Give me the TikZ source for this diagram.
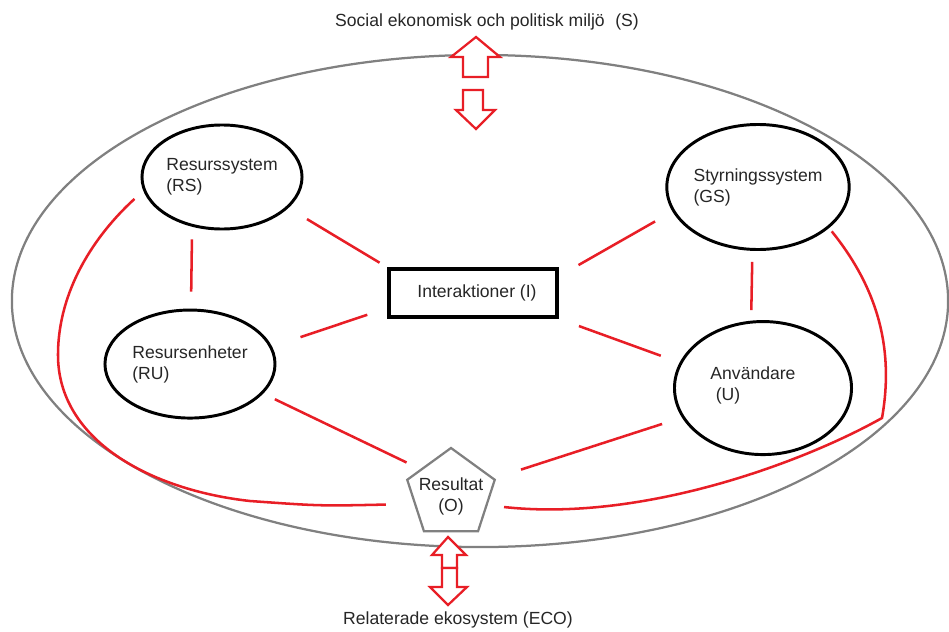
\documentclass[tikz,border=0pt]{standalone}
\usepackage{fontspec}
\setmainfont{Liberation Sans}
\usetikzlibrary{shapes.geometric}
\definecolor{linkred}{RGB}{232,30,38}
\definecolor{envgray}{RGB}{128,128,128}
\begin{document}
\begin{tikzpicture}[x=0.025cm,y=-0.025cm,node distance=2cm,
        font=\fontsize{12.5}{15}\selectfont,text=black!85,
        sys/.style={draw=black,ellipse,line width=2.1pt,inner sep=0pt,align=left},
        link/.style={draw=linkred,line width=1.8pt},
        bigarrow/.style={draw=linkred,fill=white,line width=1.6pt,line join=miter}]
        \useasboundingbox (0,0) rectangle (949,632);
        \node[draw=envgray,ellipse,line width=1.6pt,minimum width=23.4cm,minimum height=12.3cm] (s) at (480,301) {};
        \node (sl) at (487,22) {Social ekonomisk och politisk miljö\hspace{0.6em}(S)};
        \node (eco) at (458,620) {Relaterade ekosystem (ECO)};

        \node[sys,minimum width=4cm,minimum height=2.6cm] (rs) at (222,177) {Resurssystem\\(RS)};
        \node[sys,minimum width=4.25cm,minimum height=2.7cm,below of=rs,xshift=-0.8cm,yshift=-2.675cm] (ru) {Resursenheter\\(RU)};
        \node[sys,minimum width=4.175cm,minimum height=3.125cm] (gs) at (758,187) {Styrningssystem\\(GS)};
        \node[sys,minimum width=4.425cm,minimum height=3.325cm,below of=gs,xshift=0.125cm,yshift=-3.025cm] (u) {};
        \node[align=left] (ut) at (753,385) {Användare\\\hspace{0.3em}(U)};
        \node[draw=black,rectangle,line width=2.4pt,minimum width=4.2cm,minimum height=1.2cm] (i) at (473,293) {};
        \node (it) at (477,293) {Interaktioner (I)};
        \node[draw=envgray,fill=white,regular polygon,regular polygon sides=5,line width=1.6pt,inner sep=0pt,minimum size=2.3cm] (o) at (451,494) {};
        \node[align=center] (ot) at (451,496) {Resultat\\(O)};

        % pilar mot omgivningen
        \draw[bigarrow] (476,37) -- (500,57) -- (488,57) -- (488,77) -- (463,77) -- (463,57) -- (451,57) -- cycle;
        \draw[bigarrow] (463,90) -- (483,90) -- (483,110) -- (495,110) -- (476,129) -- (456,110) -- (463,110) -- cycle;
        \draw[bigarrow] (448,537) -- (466,555) -- (457,555) -- (457,568) -- (442,568) -- (442,555) -- (432,555) -- cycle;
        \draw[bigarrow] (442,568) -- (457,568) -- (457,587) -- (467,587) -- (448,605) -- (430,587) -- (442,587) -- cycle;

        \draw[link,shorten <=8.9pt,shorten >=12pt] (rs.239) -- (ru.89);
        \draw[link,shorten <=15.4pt,shorten >=6.4pt] (rs.-25) -- (i.north west);
        \draw[link,shorten <=21.3pt,shorten >=15pt] (ru.12) -- (i.190);
        \draw[link,shorten <=14.2pt,shorten >=16.2pt] (gs.196) -- (i.11);
        \draw[link,shorten <=15.3pt,shorten >=14.2pt] (i.south east) -- (u.163);
        \draw[link,shorten <=7.8pt,shorten >=7.5pt] (gs.265) -- (u.100);
        \draw[link,shorten <=9.2pt,shorten >=10.7pt] (ru.-22) -- (o.141);
        \draw[link,shorten <=14.8pt,shorten >=19.8pt] (u.200) -- (o.20);

        \draw[link,shorten <=8.5pt,shorten >=20pt] (rs.190) .. controls (95,235) and (58,290) .. (58,355)
            .. controls (58,440) and (150,490) .. (250,501) .. controls (320,506) .. (o.195);
        \draw[link,shorten <=3pt,shorten >=11.7pt] (gs.-30) .. controls (875,285) and (895,345) .. (882,418)
            .. controls (800,464) and (640,522) .. (o.-17);
    \end{tikzpicture}
\end{document}
